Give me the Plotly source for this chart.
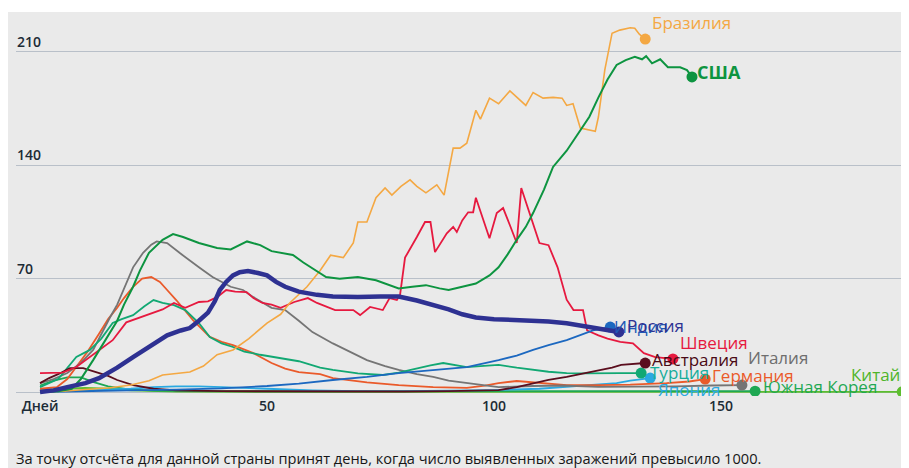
import plotly.graph_objects as go

# ---------------- data (days since 1000 cases, new cases per million, 7-day avg) ----------------
brazil_days = [0, 5, 10, 15, 20, 24, 27, 30, 33, 36, 39, 42.5, 46, 50, 53, 55, 57, 58.8, 61.7, 64, 66.8, 69, 70, 72, 74, 76, 77.5, 79.5, 81.5, 83, 85, 87.4, 89, 91, 92.5, 94, 96, 97, 99, 101, 103.5, 105, 107, 108.6, 110.8, 113, 115, 116, 117.4, 119, 121, 122.3, 123, 124.4, 126, 127.7, 130, 131, 132, 133.3]
brazil_vals = [0, 0.5, 1.5, 2.5, 4.3, 7, 10.5, 11.5, 12.3, 16, 23, 26, 33, 42.6, 48, 55, 60, 65, 75, 84.5, 83, 92, 105, 105, 120, 126, 121.6, 127, 131, 127, 123, 128, 121.6, 150.6, 150.6, 153.7, 174, 168.5, 181.5, 178, 186, 182, 177, 185, 181.5, 182, 181.5, 177, 178, 163, 161.7, 161, 170, 199, 221.6, 223.5, 225, 224.7, 221, 218]

usa_days = [0, 4, 7, 9, 11.7, 13.5, 15.4, 17, 18.5, 20.5, 22, 24, 27, 29.3, 31.5, 35, 39, 42, 45.6, 48.5, 51, 53, 55.7, 58, 60, 63, 66, 70, 74, 77, 79, 82, 85, 88, 90, 93, 96, 99, 101, 103, 105, 107, 108.6, 111, 113, 116, 119.6, 121, 123, 125, 127, 129, 131, 132.6, 133.5, 134.8, 136.6, 138.3, 141, 142.5, 143.6]
usa_vals = [0, 0.5, 2, 8, 19.7, 28, 36, 44, 54, 65, 75, 86, 94, 97.5, 95.7, 92, 89, 88, 93, 90.7, 87, 85.8, 84.6, 80, 76.5, 71, 70, 71, 69, 66, 64, 65, 66, 64, 63, 65, 67, 72, 77, 85, 94, 102, 110.5, 125, 139, 149, 163.6, 170, 182, 193, 202, 205, 207, 205.5, 207.4, 203, 205.5, 200.6, 200.6, 198.8, 194.6]

russia_days = [0, 3, 6, 10, 13, 17, 20.5, 24, 28, 31, 33, 35, 37, 38.5, 39.6, 41, 42.5, 44, 45.8, 48, 50, 52, 54, 57, 61, 64.5, 70, 75, 79, 83, 86.6, 90, 93, 96, 100, 104, 108.6, 112, 116, 119.6, 123, 125, 127.5]
russia_vals = [0, 1, 3, 5.5, 8.6, 15, 21.6, 28, 35, 38, 39.5, 44, 49, 56, 63, 68, 72, 74, 74.7, 73.5, 72, 68, 65, 62, 60, 59, 58.6, 59, 59, 56.5, 54, 51, 48, 46, 45, 44.5, 44.4, 43.5, 42.5, 41, 39, 38.5, 37.1]

india_days = [0, 10, 20, 30, 40, 50, 57, 64.5, 72, 79, 86.6, 94, 101, 105, 108.6, 112, 116, 119, 121.8, 125.6]
india_vals = [0, 0.3, 1, 1.5, 2.2, 3.7, 5.2, 7.4, 9.3, 11.7, 13.6, 15.4, 19.7, 22.5, 26, 29, 32, 35, 38, 40.1]

sweden_days = [0, 2, 5, 8, 11, 13, 16, 19, 22, 25, 27, 29.5, 32, 35, 37, 39, 41, 43, 45.5, 47, 49, 51, 53, 56, 59, 61, 63, 65, 69, 70.5, 72.7, 75.5, 77, 78.6, 79.3, 80.4, 83, 84.8, 86, 87, 89.6, 91, 91.8, 93, 94.3, 95.4, 96, 97, 99, 100.6, 102, 103.5, 105, 106, 108, 110, 112, 114, 116, 117.5, 119.6, 120.5, 123, 125, 127.8, 130.6, 133, 135.5, 139.4]
sweden_vals = [11.7, 11.7, 12, 15.4, 21.6, 26, 32, 43, 46, 49, 51, 55, 52, 55.6, 56, 58.6, 63, 62, 61.7, 58, 55, 54, 52, 55.6, 58, 55, 53, 50.6, 50.6, 47.5, 52.5, 50.6, 58, 56.8, 60, 83, 95.7, 105, 105, 86.4, 98, 102, 98.8, 106, 111, 111, 120, 112, 95, 110.5, 113.6, 103, 92, 126, 109, 92, 90.7, 77, 57, 50.6, 50.6, 38, 35, 33, 31, 30, 24, 21.6, 20.4]

australia_days = [0, 2, 4, 6.6, 9.5, 12.5, 15, 17, 20.5, 25, 30, 40, 60, 80, 90, 96, 101, 105, 108.6, 112, 116, 120, 123, 126, 128, 131, 133.3]
australia_vals = [5.5, 8.6, 11, 14.8, 14.8, 12.3, 10, 7.4, 4.3, 2, 1, 0.5, 0.3, 0.3, 0.5, 0.8, 1.2, 3, 5.5, 7.5, 9.3, 11.5, 13.6, 15, 16.7, 17.5, 17.9]

italy_days = [0, 3, 6, 9, 11.7, 13.5, 15.4, 17, 19, 20.5, 22.7, 24.5, 25.7, 28, 30.8, 33, 35, 38, 42, 44.7, 47, 51, 54, 57, 60, 64.5, 68, 72, 76, 79, 83, 86.6, 90, 94, 101, 108.6, 115, 123, 130, 140, 148, 154.6]
italy_vals = [5.5, 8, 11.7, 18, 26, 36, 46, 54, 67, 77, 86, 91, 93, 92, 85.8, 81, 77, 71, 65, 63, 58.6, 52, 50.6, 44, 37, 30, 25, 19.7, 16, 13.6, 11, 9.3, 7, 5.5, 3, 3.7, 4, 3.2, 3.2, 3.5, 4, 4.3]

turkey_days = [0, 4, 8, 11, 13.5, 16, 18, 20.5, 23, 25, 27, 29.5, 32, 35, 37.4, 40, 42.5, 45, 48.5, 54, 57, 61.7, 64.5, 70, 75.5, 79, 83, 86, 88.8, 91, 94, 97, 101, 105, 108.6, 112, 116, 120, 127.8, 132.4]
turkey_vals = [3, 8, 21.6, 26, 33, 42.6, 45, 47.5, 53, 56.8, 55, 53.7, 50.6, 42.6, 34, 30, 27.8, 25, 23, 20.5, 19, 15, 13.6, 11.5, 10.5, 12, 14.8, 16.5, 17.9, 17, 15.4, 16, 16.7, 15, 13.6, 12.5, 11.7, 11.5, 11.7, 11.7]

germany_days = [0, 3.7, 6, 8, 10.5, 13, 15, 17, 18.5, 20.5, 22.5, 24.5, 26.4, 28, 30, 33.7, 37.4, 40, 42.5, 47, 51, 54, 57, 61.7, 64.5, 72, 79, 86.6, 94, 98, 101, 105, 108.6, 116, 123, 130, 138, 143, 146.5]
germany_vals = [2, 3, 8, 15.4, 25, 36, 45, 52, 58, 65, 70, 71, 68, 63, 56.8, 44.4, 34, 31, 29, 24, 17.9, 14.5, 12.3, 11, 8.6, 6, 4.3, 3, 2.5, 4, 5.5, 6.8, 6, 4.3, 4.3, 4.5, 5.5, 6.5, 8]

japan_days = [0, 10, 20, 25, 30, 35, 40, 45, 50, 60, 70, 80, 90, 100, 110, 118, 123, 127, 130, 134.4]
japan_vals = [0.5, 1, 2, 3, 3.5, 3.5, 3, 2.3, 2, 1, 0.5, 0.5, 0.8, 1.2, 2, 3.5, 4.3, 5.5, 7, 8.6]

korea_days = [0, 3, 6, 9, 12, 15, 20, 25, 35, 50, 70, 90, 110, 130, 157.5]
korea_vals = [4, 7, 9, 9, 6, 3.5, 1.5, 0.8, 0.5, 0.3, 0.4, 0.5, 0.5, 0.6, 0.5]

china_days = [0, 5, 10, 15, 20, 25, 30, 50, 100, 150, 189.9]
china_vals = [1, 2, 2.5, 2, 1, 0.5, 0.2, 0.05, 0.02, 0.02, 0.1]

y_ticks = [0, 70, 140, 210]
y_tick_labels = ["", "70", "140", "210"]
x_ticks = [0, 50, 100, 150]
x_tick_labels = ["Дней", "50", "100", "150"]

footnote = "За точку отсчёта для данной страны принят день, когда число выявленных заражений превысило 1000."

# name, days, vals, line colour, label colour, width, label xshift, yshift, xanchor, bold
series = [
    ("Китай", china_days, china_vals, "#5dbd2f", "#4fb52a", 1.8, 0, 17, "right", False),
    ("Южная Корея", korea_days, korea_vals, "#1fa853", "#1fa853", 1.8, 6, 5, "left", False),
    ("Япония", japan_days, japan_vals, "#2aa9e1", "#2aa9e1", 1.8, 6, -11, "left", False),
    ("Германия", germany_days, germany_vals, "#ea5a2a", "#ea5a2a", 1.8, 5, 4, "left", False),
    ("Италия", italy_days, italy_vals, "#757575", "#6e6e6e", 1.8, 4, 28, "left", False),
    ("Турция", turkey_days, turkey_vals, "#12a873", "#17ad9a", 1.8, 7, 1, "left", False),
    ("Австралия", australia_days, australia_vals, "#5b0e1e", "#4a0a16", 1.8, 5, 4, "left", False),
    ("Швеция", sweden_days, sweden_vals, "#e6193f", "#e6193f", 1.8, 5, 16, "left", False),
    ("Индия", india_days, india_vals, "#1c68c0", "#2158b5", 1.8, 2, 1, "left", False),
    ("Бразилия", brazil_days, brazil_vals, "#f4a843", "#f4a843", 1.6, 5, 17, "left", False),
    ("США", usa_days, usa_vals, "#0d9440", "#0d9440", 2.0, 3, 5, "left", True),
    ("Россия", russia_days, russia_vals, "#2e3192", "#2e3192", 4.5, 6, 6, "left", False),
]

fig = go.Figure()
annotations = []
for name, d, v, col, lcol, w, xs, ys, xa, bold in series:
    fig.add_trace(go.Scatter(x=d, y=v, mode="lines", line=dict(color=col, width=w),
                             hoverinfo="skip", showlegend=False))
    fig.add_trace(go.Scatter(x=[d[-1]], y=[v[-1]], mode="markers",
                             marker=dict(color=col, size=11), hoverinfo="skip", showlegend=False))
    annotations.append(dict(x=d[-1], y=v[-1], xref="x", yref="y", text=name, showarrow=False,
                            xanchor=xa, yanchor="middle", xshift=xs, yshift=ys,
                            font=dict(family="Open Sans", size=18 if bold else 17, color=lcol,
                                      weight="bold" if bold else "normal")))

# y tick labels sit above their gridlines, at the left edge of the plot
tick_font = dict(family="Open Sans", size=14, color="#1c2b36", weight=600)
for val, lab in zip(y_ticks, y_tick_labels):
    if lab:
        annotations.append(dict(x=0, y=val, xref="paper", yref="y", text=lab, showarrow=False,
                                xanchor="left", yanchor="bottom", xshift=-1, yshift=-1,
                                font=tick_font))

annotations.append(dict(x=-2 / 893, y=-62 / 384, xref="paper", yref="paper", text=footnote,
                        showarrow=False, xanchor="left", yanchor="middle",
                        font=dict(family="Open Sans", size=14.6, color="#161616", weight=500)))

fig.update_layout(
    width=909, height=468,
    margin=dict(l=8, r=8, t=4, b=80),
    paper_bgcolor="#eaeaea", plot_bgcolor="#eaeaea",
    annotations=annotations,
    shapes=[dict(type="rect", xref="paper", yref="paper", x0=-0.05, x1=1.05, y0=1.0, y1=1.1,
                 fillcolor="white", line=dict(width=0), layer="above")],
    xaxis=dict(range=[-5.29, 191.4], showgrid=False, zeroline=False, showline=False,
               tickvals=x_ticks, ticktext=x_tick_labels, ticks="", tickfont=tick_font),
    yaxis=dict(range=[-2.47, 234.7], showgrid=True, gridcolor="#b9c0c9", gridwidth=1.3,
               zeroline=False, showline=False, tickvals=y_ticks, showticklabels=False,
               ticks=""),
)

fig.write_html("out.html")
